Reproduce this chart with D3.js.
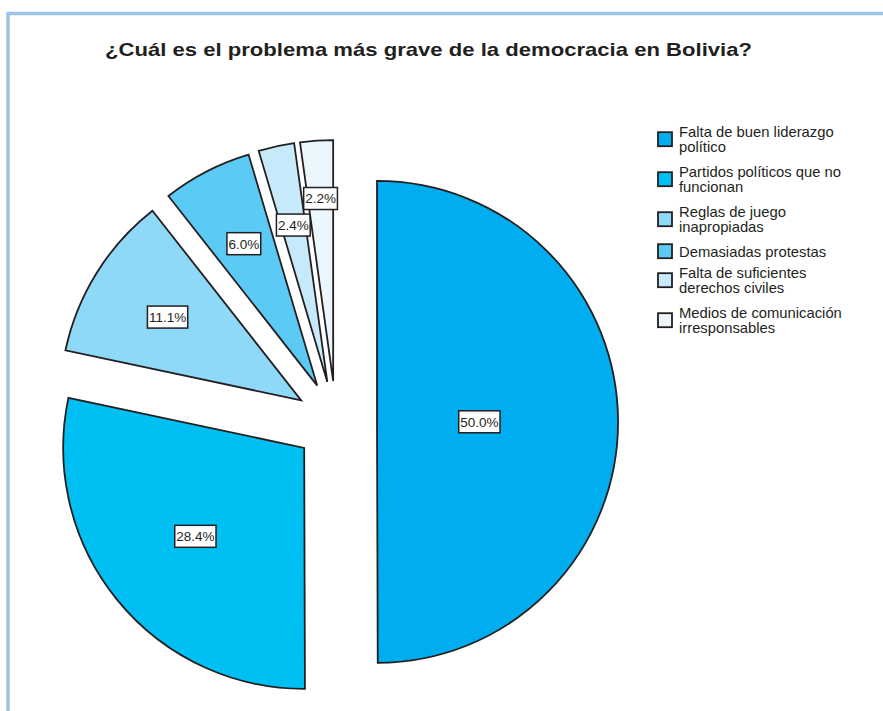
<!DOCTYPE html>
<html>
<head>
<meta charset="utf-8">
<script src="https://cdn.jsdelivr.net/npm/d3@7"></script>
<style>
  html, body { margin: 0; padding: 0; background: #fff; }
  svg { display: block; }
</style>
</head>
<body>
<svg id="chart" width="883" height="711"></svg>
<script>
const title = "¿Cuál es el problema más grave de la democracia en Bolivia?";
const categories = [
  ["Falta de buen liderazgo", "político"],
  ["Partidos políticos que no", "funcionan"],
  ["Reglas de juego", "inapropiadas"],
  ["Demasiadas protestas"],
  ["Falta de suficientes", "derechos civiles"],
  ["Medios de comunicación", "irresponsables"]
];
const values = [50.0, 28.4, 11.1, 6.0, 2.4, 2.2];
const colors = ["#00AEEF", "#00C0F3", "#8ED8F8", "#5BCBF5", "#C6EAFA", "#EBF7FD"];

const svg = d3.select("#chart");
const W = 883, H = 711;

// frame lines
svg.append("path")
  .attr("d", `M8,${H} L8,13.5 L${W},13.5`)
  .attr("fill", "none")
  .attr("stroke", "#9DC3E6")
  .attr("stroke-width", 3.5);

// title
svg.append("text")
  .attr("x", 105).attr("y", 55.5)
  .attr("textLength", 647)
  .attr("lengthAdjust", "spacingAndGlyphs")
  .attr("font-family", "Liberation Sans, Arial, sans-serif")
  .attr("font-weight", "bold")
  .attr("font-size", 19)
  .attr("fill", "#231F20")
  .text(title);

// pie
const cx = 336, cy = 422, R = 241, explode = 41;
const pie = d3.pie().sort(null).value(d => d)(values);
const arc = d3.arc().innerRadius(0).outerRadius(R);

const g = svg.append("g").attr("transform", `translate(${cx},${cy})`);
const slices = g.selectAll("g.slice").data(pie).enter().append("g")
  .attr("class", "slice")
  .attr("transform", d => {
    const a = (d.startAngle + d.endAngle) / 2;
    return `translate(${explode * Math.sin(a)},${-explode * Math.cos(a)})`;
  });

slices.append("path")
  .attr("d", arc)
  .attr("fill", (d, i) => colors[i])
  .attr("stroke", "#231F20")
  .attr("stroke-width", 1.8)
  .attr("stroke-linejoin", "miter");

// labels at sector centroid
slices.each(function(d, i) {
  const a = (d.startAngle + d.endAngle) / 2;
  const half = (d.endAngle - d.startAngle) / 2;
  let rr = 2 * R * Math.sin(half) / (3 * half);
  if (i === values.length - 1) rr *= 1.14; // avoid overlap with neighbour label
  const x = rr * Math.sin(a), y = -rr * Math.cos(a);
  const sel = d3.select(this);
  const lg = sel.append("g").attr("transform", `translate(${x},${y})`);
  const t = lg.append("text")
    .attr("text-anchor", "middle")
    .attr("dy", "0.36em")
    .attr("font-family", "Liberation Sans, Arial, sans-serif")
    .attr("font-size", 13.5)
    .attr("fill", "#231F20")
    .text(d3.format(".1f")(values[i]) + "%");
  const bb = t.node().getBBox();
  lg.insert("rect", "text")
    .attr("x", bb.x - 1.5).attr("y", -11)
    .attr("width", bb.width + 3).attr("height", 22)
    .attr("fill", "#fff")
    .attr("stroke", "#231F20")
    .attr("stroke-width", 1.5);
});

// legend
const lx = 658, lineH = 15.7;
let ly = 125.7;
const legend = svg.append("g");
categories.forEach((lines, i) => {
  const item = legend.append("g");
  const mid = ly + (lines.length === 1 ? 5.5 : 13.5);
  item.append("rect")
    .attr("x", lx).attr("y", mid - 7)
    .attr("width", 14).attr("height", 14)
    .attr("fill", colors[i])
    .attr("stroke", "#231F20")
    .attr("stroke-width", 1.8);
  lines.forEach((ln, j) => {
    item.append("text")
      .attr("x", 679).attr("y", ly + 11 + j * lineH)
      .attr("font-family", "Liberation Sans, Arial, sans-serif")
      .attr("font-size", 14.8)
      .attr("fill", "#231F20")
      .text(ln);
  });
  ly += lines.length === 1 ? 21 : 40;
});
</script>
</body>
</html>
